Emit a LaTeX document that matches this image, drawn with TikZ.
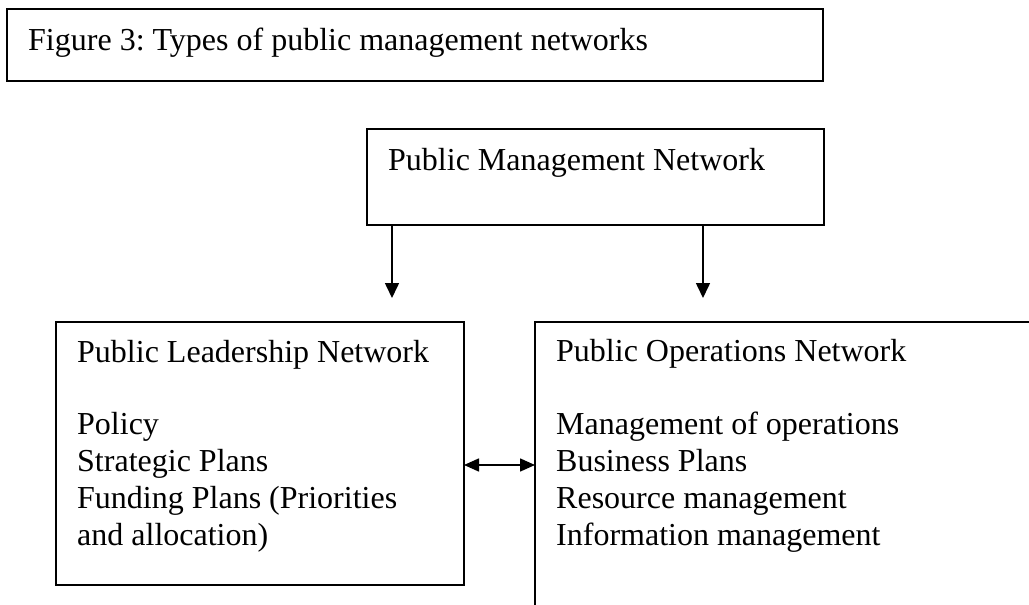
\documentclass[tikz,border=0pt]{standalone}
\usepackage{fontspec}
\setmainfont{Liberation Serif}
\usetikzlibrary{arrows.meta}
\frenchspacing
\begin{document}
\begin{tikzpicture}[x=1pt,y=-1pt,
  frame/.style={draw, line width=1.6pt, rectangle, inner sep=0pt, outer sep=0pt, anchor=north west},
  txt/.style={anchor=base west, inner sep=0pt, font=\fontsize{32}{37}\selectfont, align=left},
  link/.style={line width=1.6pt, -{Triangle[width=14pt,length=15pt]}},
  both/.style={line width=1.6pt, {Triangle[width=13pt,length=15pt]}-{Triangle[width=13pt,length=15pt]}}]
\useasboundingbox (0,0) rectangle (1029,605);
\clip (0,0) rectangle (1029,605);

% caption box
\node[frame, minimum width=816pt, minimum height=72pt] (title) at (7,9) {};
\node[txt] (titletext) at (28,50) {Figure 3: Types of public management networks};

% top network
\node[frame, minimum width=457pt, minimum height=96pt] (pmn) at (367,129) {};
\node[txt] (pmntext) at (388,170) {Public Management Network};

% leadership network (list is placed by the baseline of its last line)
\node[frame, minimum width=408pt, minimum height=263pt] (plnet) at (56,322) {};
\node[txt] (plhead) at (77,362) {Public Leadership Network};
\node[txt] (pllist) at (77,545) {Policy\\Strategic Plans\\Funding Plans (Priorities\\and allocation)};

% operations network (runs off the page)
\node[frame, minimum width=510pt, minimum height=318pt] (ponet) at (535,322) {};
\node[txt] (pohead) at (556,361) {Public Operations Network};
\node[txt] (polist) at (556,545) {Management of operations\\Business Plans\\Resource management\\Information management};

% connectors
\coordinate (tipl) at (392,298);
\coordinate (tipr) at (703,298);
\coordinate (mid) at (0,465);
\draw[link] (pmn.south -| tipl) -- (tipl);
\draw[link] (pmn.south -| tipr) -- (tipr);
\draw[both] (plnet.east |- mid) -- (ponet.west |- mid);
\end{tikzpicture}
\end{document}
